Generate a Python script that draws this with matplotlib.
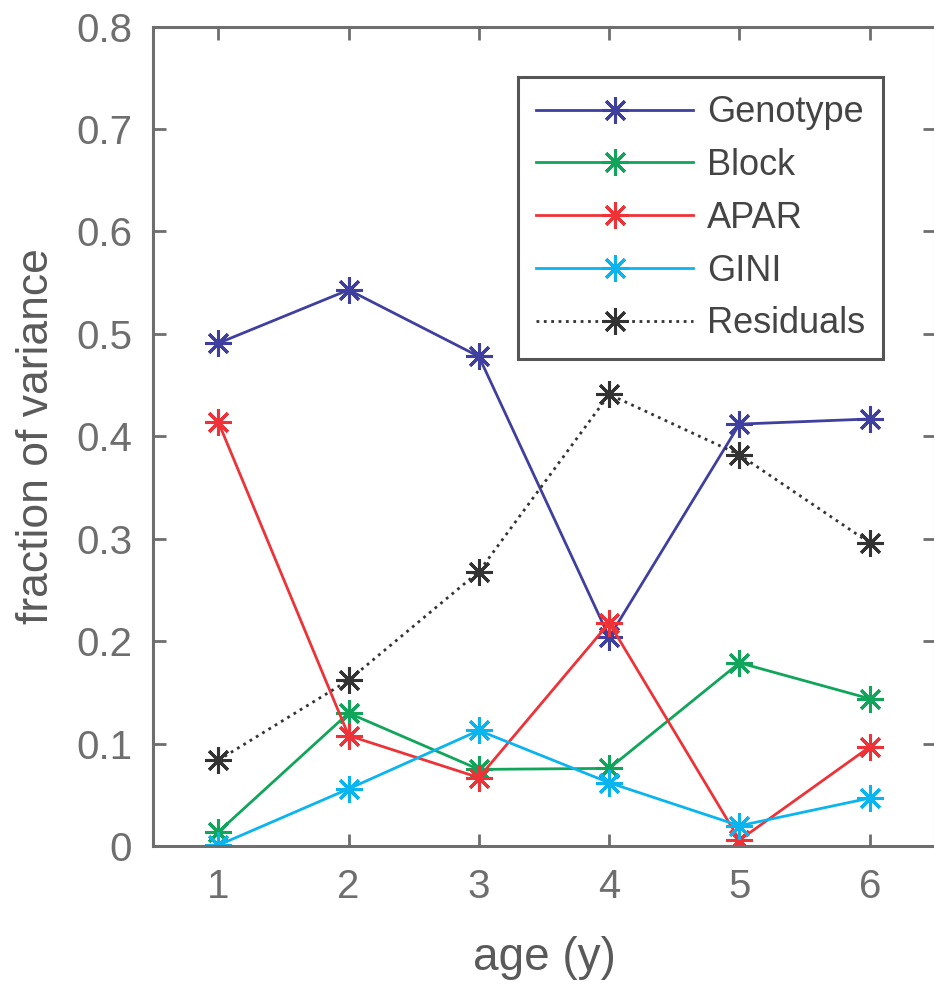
import matplotlib.pyplot as plt

age = [1, 2, 3, 4, 5, 6]
genotype = [0.491, 0.543, 0.478, 0.204, 0.412, 0.417]
block = [0.014, 0.130, 0.075, 0.076, 0.179, 0.144]
apar = [0.414, 0.108, 0.067, 0.218, 0.006, 0.097]
gini = [0.001, 0.056, 0.113, 0.062, 0.020, 0.047]
residuals = [0.084, 0.162, 0.268, 0.441, 0.382, 0.296]

plt.rcParams['font.family'] = ['Liberation Sans', 'DejaVu Sans']

fig = plt.figure(figsize=(9.34, 9.84), dpi=100)
ax = fig.add_axes([0.164, 0.140, 0.837, 0.833])

star = (8, 2, 0)  # matlab-like asterisk
series = [
    (genotype, 'Genotype', '#3f3f9f', '-'),
    (block, 'Block', '#10a55a', '-'),
    (apar, 'APAR', '#ee3338', '-'),
    (gini, 'GINI', '#0ab4ee', '-'),
    (residuals, 'Residuals', '#333333', ':'),
]
for vals, name, col, ls in series:
    ax.plot(age, vals, linestyle=ls, color=col, lw=2.0, marker=star,
            markersize=19, markeredgewidth=2.2, label=name)

ax.set_xlim(0.5, 6.5)
ax.set_ylim(0, 0.8)
ax.set_xticks(age)
ax.set_yticks([0, 0.1, 0.2, 0.3, 0.4, 0.5, 0.6, 0.7, 0.8])
ax.set_yticklabels(['0', '0.1', '0.2', '0.3', '0.4', '0.5', '0.6', '0.7', '0.8'])

gray = '#6e6e6e'
for s in ax.spines.values():
    s.set_color(gray)
    s.set_linewidth(2.2)
ax.tick_params(direction='in', length=9, width=2, colors=gray, labelsize=29,
               top=True, right=True, pad=15)
ax.tick_params(axis='x', pad=16)

ax.set_xlabel('age (y)', fontsize=33, color='#5a5a5a', labelpad=21)
ax.set_ylabel('fraction of variance', fontsize=32, color='#5a5a5a', labelpad=14)

leg = ax.legend(loc='upper left', bbox_to_anchor=(0.467, 0.938), fontsize=26,
                handlelength=4.35, handletextpad=0.37, labelspacing=0.49,
                borderpad=0.5, borderaxespad=0, fancybox=False, framealpha=1,
                labelcolor='#444444')
leg.get_frame().set_edgecolor('#555555')
leg.get_frame().set_linewidth(2.2)

fig.savefig('out.png', dpi=100)
